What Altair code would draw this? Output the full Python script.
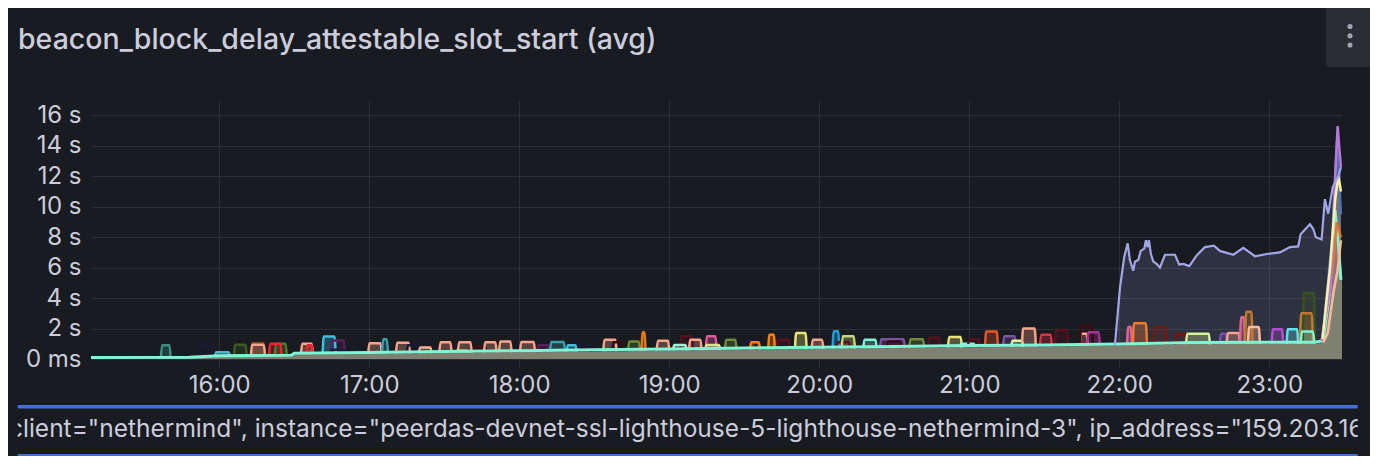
import altair as alt
import pandas as pd

# ---------------- data (hours of day, seconds) ----------------
BASE_T = [15.145, 15.8, 16.0, 16.48, 16.5, 17.0, 17.5, 18.0, 18.5, 19.0, 19.5, 20.0, 20.5, 21.0,
          21.5, 22.0, 22.5, 23.0, 23.3, 23.35, 23.38, 23.41, 23.43, 23.45, 23.47, 23.485]
BASE_V = [0.04, 0.06, 0.15, 0.17, 0.3, 0.33, 0.4, 0.45, 0.5, 0.56, 0.62, 0.68, 0.72, 0.78,
          0.82, 0.88, 0.98, 1.0, 1.0, 1.05, 1.8, 3.5, 4.5, 5.2, 5.4, 5.6]

MINT_T = [15.145, 15.8, 16.0, 16.48, 16.5, 17.0, 17.5, 18.0, 18.5, 19.0, 19.5, 20.0, 20.5, 21.0,
          21.5, 22.0, 22.5, 23.0, 23.3, 23.36, 23.405, 23.438, 23.46, 23.478]
MINT_V = [0.1, 0.12, 0.22, 0.25, 0.38, 0.42, 0.5, 0.55, 0.6, 0.66, 0.72, 0.78, 0.82, 0.88,
          0.92, 0.98, 1.08, 1.1, 1.1, 1.2, 4.7, 9.8, 7.6, 5.2]

LAV_T = [21.971, 22.005, 22.033, 22.056, 22.071, 22.093, 22.105, 22.127, 22.143, 22.167, 22.178,
         22.189, 22.198, 22.211, 22.227, 22.249, 22.271, 22.305, 22.371, 22.4, 22.427, 22.467,
         22.516, 22.571, 22.631, 22.671, 22.76, 22.827, 22.905, 22.983, 23.071, 23.138, 23.193,
         23.209, 23.271, 23.293, 23.311, 23.349, 23.371, 23.393, 23.423, 23.46, 23.478]
LAV_V = [0.9, 4.7, 6.7, 7.6, 6.5, 5.8, 6.4, 6.5, 7.1, 7.25, 7.8, 7.35, 7.8, 6.9, 6.4, 6.25, 6.0,
         6.85, 6.85, 6.2, 6.25, 6.1, 6.8, 7.35, 7.45, 7.1, 6.85, 7.3, 6.75, 6.9, 7.0, 7.35, 7.4,
         8.2, 8.85, 8.55, 8.0, 7.85, 10.5, 9.55, 11.3, 12.0, 12.6]

SPIKES = {
    "orange": ([23.35, 23.40, 23.43, 23.45, 23.478], [1.2, 4.4, 6.5, 9.0, 8.0], "#e0752d"),
    "peach":  ([23.36, 23.39, 23.43, 23.455, 23.478], [1.1, 1.7, 4.5, 5.8, 7.8], "#ffb99b"),
    "blue":   ([23.355, 23.42, 23.45, 23.465, 23.478], [1.3, 8.0, 14.3, 12.0, 9.5], "#4a74b0"),
    "purple": ([23.35, 23.41, 23.44, 23.456, 23.47, 23.478], [1.2, 5.0, 12.0, 15.3, 13.5, 12.6], "#b877d9"),
    "cream":  ([23.355, 23.405, 23.44, 23.46, 23.47, 23.478], [1.3, 6.0, 10.5, 12.0, 11.5, 11.0], "#f8f4a6"),
}

# short plateaus: (start, end, peak, foot, colour)
BUMPS = [
    (15.611, 15.676, 0.90, 0.08, "#3e8e80"),
    (15.871, 15.960, 0.93, 0.10, "#1c1838"),
    (15.971, 16.071, 0.45, 0.14, "#4cb8c8"),
    (16.098, 16.183, 0.93, 0.18, "#3b5a1e"),
    (16.211, 16.305, 1.05, 0.18, "#7a3b1a"),
    (16.211, 16.305, 0.93, 0.18, "#f7a58d"),
    (16.370, 16.450, 1.00, 0.20, "#517a2b"),
    (16.331, 16.416, 1.00, 0.20, "#f2242f"),
    (16.545, 16.625, 1.00, 0.35, "#f7a58d"),
    (16.580, 16.625, 0.90, 0.35, "#f2242f"),
    (16.689, 16.776, 1.48, 0.35, "#3dbfe0"),
    (16.743, 16.838, 1.22, 0.35, "#5b1f5e"),
    (16.740, 16.840, 0.60, 0.35, "#221a3d"),
    (16.993, 17.083, 1.04, 0.36, "#f7a58d"),
    (17.085, 17.125, 1.30, 0.36, "#3aa0b0"),
    (17.178, 17.271, 1.07, 0.37, "#f7a58d"),
    (17.250, 17.330, 0.90, 0.37, "#1c1838"),
    (17.331, 17.416, 0.75, 0.38, "#f6b394"),
    (17.467, 17.549, 1.10, 0.40, "#f7a58d"),
    (17.591, 17.683, 1.10, 0.42, "#f7a58d"),
    (17.570, 17.660, 0.55, 0.42, "#e3e68f"),
    (17.700, 17.780, 0.85, 0.43, "#3a0d12"),
    (17.765, 17.849, 1.10, 0.43, "#f7a58d"),
    (17.865, 17.949, 1.15, 0.44, "#f7a58d"),
    (18.005, 18.105, 1.12, 0.45, "#f7a58d"),
    (18.120, 18.200, 0.90, 0.46, "#5b1f5e"),
    (18.205, 18.305, 1.12, 0.47, "#3aa0b0"),
    (18.316, 18.383, 0.90, 0.48, "#3dbfe0"),
    (18.400, 18.480, 0.95, 0.49, "#1c1838"),
    (18.560, 18.649, 1.26, 0.51, "#f7a58d"),
    (18.620, 18.700, 1.10, 0.52, "#3a0d12"),
    (18.725, 18.805, 1.15, 0.53, "#6f8a3a"),
    (18.815, 18.842, 1.76, 0.53, "#e07b18"),
    (18.916, 19.000, 1.20, 0.55, "#f7a58d"),
    (19.071, 19.160, 1.50, 0.57, "#5a1020"),
    (19.025, 19.116, 0.92, 0.57, "#a8f0d4"),
    (19.131, 19.216, 1.26, 0.58, "#f7a58d"),
    (19.243, 19.316, 1.50, 0.59, "#e45b9d"),
    (19.240, 19.340, 0.92, 0.59, "#d7e88a"),
    (19.371, 19.449, 1.26, 0.60, "#6f8a3a"),
    (19.500, 19.580, 1.20, 0.62, "#1c1838"),
    (19.538, 19.605, 1.10, 0.63, "#ff7f0e"),
    (19.660, 19.704, 1.60, 0.64, "#ff7f0e"),
    (19.716, 19.805, 1.26, 0.65, "#5a1020"),
    (19.838, 19.916, 1.70, 0.66, "#e6e37a"),
    (19.949, 20.027, 1.26, 0.67, "#f7a58d"),
    (20.089, 20.133, 1.83, 0.69, "#1f9ede"),
    (20.116, 20.205, 1.10, 0.69, "#5a1020"),
    (20.149, 20.238, 1.50, 0.70, "#c6d87a"),
    (20.293, 20.383, 1.26, 0.71, "#7ef5d4"),
    (20.405, 20.571, 1.30, 0.72, "#7b52a8"),
    (20.450, 20.550, 1.15, 0.72, "#3a0d12"),
    (20.600, 20.700, 1.30, 0.74, "#6f8a3a"),
    (20.725, 20.805, 1.40, 0.75, "#5a1020"),
    (20.858, 20.951, 1.45, 0.77, "#e6e37a"),
    (20.938, 21.038, 1.00, 0.78, "#7ef5d4"),
    (20.991, 21.071, 1.30, 0.78, "#5a1020"),
    (21.105, 21.191, 1.80, 0.79, "#e8552a"),
    (21.225, 21.311, 1.50, 0.80, "#7b52a8"),
    (21.280, 21.360, 1.20, 0.80, "#d8f59c"),
    (21.351, 21.444, 2.00, 0.81, "#f7a58d"),
    (21.471, 21.551, 1.60, 0.82, "#e02f44"),
    (21.571, 21.658, 1.90, 0.84, "#5a1020"),
    (21.738, 21.790, 1.66, 0.86, "#f7a58d"),
    (21.738, 21.824, 2.20, 0.86, "#3a0d12"),
    (21.785, 21.871, 1.75, 0.87, "#a8329a"),
    (22.052, 22.085, 2.10, 0.89, "#e06699"),
    (22.091, 22.185, 2.35, 0.90, "#f07a2a"),
    (22.225, 22.318, 2.10, 0.92, "#6e1a12"),
    (22.371, 22.451, 1.66, 0.94, "#6e1a12"),
    (22.445, 22.605, 1.66, 0.96, "#d8f59c"),
    (22.670, 22.720, 1.66, 0.98, "#7a4fb0"),
    (22.716, 22.805, 1.70, 0.98, "#f7a58d"),
    (22.805, 22.838, 2.75, 0.99, "#e06699"),
    (22.838, 22.889, 3.10, 0.99, "#c07a30"),
    (22.858, 22.938, 2.10, 0.99, "#ffb99b"),
    (23.016, 23.093, 1.95, 1.00, "#b04fcf"),
    (23.116, 23.193, 1.95, 1.00, "#5fe0f0"),
    (23.223, 23.305, 4.33, 1.00, "#37511f"),
    (23.205, 23.291, 3.00, 1.00, "#c07a30"),
    (23.210, 23.300, 1.80, 1.00, "#7ef5d4"),
]

X_TICKS = [16, 17, 18, 19, 20, 21, 22, 23]
Y_TICKS = [0, 2, 4, 6, 8, 10, 12, 14, 16]
TITLE = "beacon_block_delay_attestable_slot_start (avg)"
LEGEND = 'client="nethermind", instance="peerdas-devnet-ssl-lighthouse-5-lighthouse-nethermind-3", ip_address="159.203.16'

# ---------------- tables ----------------
base_df = pd.DataFrame({"t": BASE_T, "v": BASE_V})
mint_df = pd.DataFrame({"t": MINT_T, "v": MINT_V})
lav_df = pd.DataFrame({"t": LAV_T, "v": LAV_V})
spike_rows = []
for name, (ts, vs, col) in SPIKES.items():
    for t, v in zip(ts, vs):
        spike_rows.append({"s": name, "t": t, "v": v, "c": col})
spike_df = pd.DataFrame(spike_rows)
bump_rows = []
for i, (t0, t1, pk, lo, col) in enumerate(BUMPS):
    for t, v in [(t0, lo), (t0 + 0.008, pk), (t1 - 0.008, pk), (t1, lo)]:
        bump_rows.append({"seg": i, "t": t, "v": v, "c": col})
bump_df = pd.DataFrame(bump_rows)

TXT = "#ccccdc"
GRID = "#2b2e35"
BG = "#181b1f"

xs = alt.Scale(domain=[15.145, 23.485], nice=False, zero=False)
ys = alt.Scale(domain=[0, 16.95], nice=False)

X = alt.X("t:Q", scale=xs, axis=alt.Axis(values=X_TICKS, labelExpr="datum.value + ':00'", title=None,
                                          grid=True, gridColor=GRID, tickColor=GRID, tickSize=8,
                                          domain=False, labelColor=TXT, labelFontSize=24,
                                          labelPadding=6, labelFont="Inter"))
Y = alt.Y("v:Q", scale=ys, stack=None,
          axis=alt.Axis(values=Y_TICKS,
                        labelExpr="datum.value == 0 ? '0 ms' : datum.value + ' s'",
                        title=None, grid=True, gridColor=GRID, ticks=False,
                        domain=False, labelColor=TXT, labelFontSize=24,
                        labelPadding=10, labelFont="Inter"))
C = alt.Color("c:N", scale=None)

LAV = "#a2a6e8"
lav_area = alt.Chart(lav_df).mark_area(color=LAV, opacity=0.17).encode(x=X, y=Y)
bump_area = alt.Chart(bump_df).mark_area(opacity=0.3, interpolate="monotone").encode(
    x=X, y=Y, color=C, detail="seg:N")
spike_area = alt.Chart(spike_df).mark_area(opacity=0.22).encode(x=X, y=Y, color=C, detail="s:N")
base_area = alt.Chart(base_df).mark_area(color="#7e8170", opacity=1).encode(x=X, y=Y)
bump_line = alt.Chart(bump_df).mark_line(strokeWidth=2.5, interpolate="monotone").encode(
    x=X, y=Y, color=C, detail="seg:N")
mint_line = alt.Chart(mint_df).mark_line(color="#7ef5d4", strokeWidth=3).encode(x=X, y=Y)
spike_line = alt.Chart(spike_df).mark_line(strokeWidth=2.5).encode(x=X, y=Y, color=C, detail="s:N")
lav_line = alt.Chart(lav_df).mark_line(color=LAV, strokeWidth=2.2).encode(x=X, y=Y)

one = pd.DataFrame({"k": [0]})
title = alt.Chart(one).mark_text(text=TITLE, align="left", baseline="middle", font="Inter",
                                 fontSize=28.5, fontWeight=500, color=TXT).encode(
    x=alt.value(-73), y=alt.value(-61))
menu = alt.Chart(one).mark_rect(color="#2a2d32", cornerRadius=4).encode(
    x=alt.value(1235), x2=alt.value(1283), y=alt.value(-97), y2=alt.value(-34))
dot1 = alt.Chart(one).mark_point(filled=True, size=26, color="#a0a2b0", opacity=1).encode(
    x=alt.value(1259), y=alt.value(-74.5))
dot2 = alt.Chart(one).mark_point(filled=True, size=26, color="#a0a2b0", opacity=1).encode(
    x=alt.value(1259), y=alt.value(-65.3))
dot3 = alt.Chart(one).mark_point(filled=True, size=26, color="#a0a2b0", opacity=1).encode(
    x=alt.value(1259), y=alt.value(-56))
leg_line1 = alt.Chart(one).mark_rect(color="#3d71d9").encode(
    x=alt.value(-73.3), x2=alt.value(1266.7), y=alt.value(304), y2=alt.value(307.5))
leg_line2 = alt.Chart(one).mark_rect(color="#3d71d9").encode(
    x=alt.value(-73.3), x2=alt.value(1266.7), y=alt.value(353), y2=alt.value(356.5))
leg_text = alt.Chart(one).mark_text(text=LEGEND, align="left", baseline="middle", font="Inter",
                                    fontSize=24.5, color=TXT).encode(
    x=alt.value(-82), y=alt.value(329))
cover_l = alt.Chart(one).mark_rect(color=BG).encode(
    x=alt.value(-95), x2=alt.value(-73.3), y=alt.value(310), y2=alt.value(350))
cover_r = alt.Chart(one).mark_rect(color=BG).encode(
    x=alt.value(1266.7), x2=alt.value(1300), y=alt.value(310), y2=alt.value(350))

chart = alt.layer(
    lav_area, bump_area, spike_area, base_area, bump_line, mint_line, spike_line, lav_line,
    title, menu, dot1, dot2, dot3, leg_line1, leg_line2, leg_text, cover_l, cover_r
).properties(
    width=1251, height=258,
    padding={"left": 83, "top": 93, "right": 28, "bottom": 97},
    autosize=alt.AutoSizeParams(type="none"),
    background=BG,
).configure_view(stroke=None)

chart.save("out.html", embed_options={"renderer": "svg", "actions": False})
